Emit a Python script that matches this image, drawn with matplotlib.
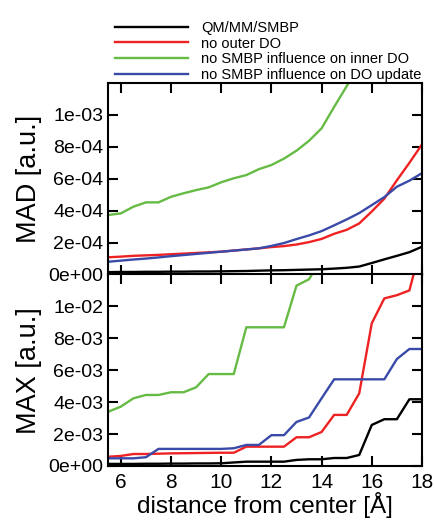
import numpy as np
import matplotlib
matplotlib.use("Agg")
import matplotlib.pyplot as plt

plt.rcParams['font.family'] = ['Liberation Sans', 'DejaVu Sans']

# distances [Angstrom]
dist = np.arange(5.5, 18.01, 0.5)

labels = ["QM/MM/SMBP", "no outer DO",
          "no SMBP influence on inner DO",
          "no SMBP influence on DO update"]
colors = ["black", "#ee2222", "#66bb44", "#3a4aa8"]

# mean absolute deviation (units of 1e-4)
mad_full = [0.15, 0.16, 0.16, 0.17, 0.17, 0.18, 0.18, 0.19, 0.19, 0.20,
            0.21, 0.22, 0.24, 0.26, 0.27, 0.29, 0.31, 0.33, 0.37, 0.42,
            0.50, 0.72, 0.95, 1.17, 1.40, 1.74]
mad_no_outer = [1.08, 1.12, 1.17, 1.20, 1.23, 1.27, 1.31, 1.35, 1.39, 1.43,
                1.50, 1.57, 1.64, 1.72, 1.78, 1.88, 2.03, 2.23, 2.55, 2.80,
                3.20, 3.95, 4.75, 5.90, 7.00, 8.15]
mad_no_inner = [3.73, 3.83, 4.25, 4.52, 4.52, 4.87, 5.09, 5.29, 5.46, 5.78,
                6.03, 6.23, 6.60, 6.86, 7.26, 7.76, 8.38, 9.16, 10.5, 11.8,
                13.2]
mad_no_update = [0.80, 0.87, 0.94, 1.00, 1.07, 1.15, 1.22, 1.29, 1.36, 1.43,
                 1.50, 1.57, 1.64, 1.79, 1.97, 2.22, 2.45, 2.72, 3.08, 3.45,
                 3.85, 4.35, 4.85, 5.50, 5.88, 6.35]

# maximum deviation (units of 1e-3)
max_full = [0.13, 0.13, 0.13, 0.14, 0.14, 0.15, 0.15, 0.16, 0.16, 0.17,
            0.22, 0.27, 0.27, 0.27, 0.27, 0.38, 0.42, 0.42, 0.50, 0.50,
            0.69, 2.57, 2.93, 2.93, 4.18, 4.18]
max_no_outer = [0.58, 0.63, 0.75, 0.75, 0.77, 0.79, 0.80, 0.81, 0.82, 0.83,
                0.83, 1.21, 1.21, 1.21, 1.21, 1.80, 1.80, 2.13, 3.20, 3.20,
                4.55, 8.94, 10.5, 10.7, 11.0, 14.0]
max_no_inner = [3.40, 3.72, 4.24, 4.45, 4.45, 4.62, 4.62, 4.93, 5.76, 5.76,
                5.76, 8.69, 8.69, 8.69, 8.69, 11.3, 11.7, 13.0]
max_no_update = [0.48, 0.48, 0.48, 0.55, 1.07, 1.07, 1.07, 1.07, 1.07, 1.07,
                 1.11, 1.32, 1.32, 1.93, 1.93, 2.76, 3.04, 4.24, 5.43, 5.43,
                 5.43, 5.43, 5.43, 6.70, 7.33, 7.33]

mad = [mad_full, mad_no_outer, mad_no_inner, mad_no_update]
mx = [max_full, max_no_outer, max_no_inner, max_no_update]

fig = plt.figure(figsize=(4.35, 5.21), dpi=100)
ax1 = fig.add_axes([0.249, 0.4731, 0.721, 0.3676])
ax2 = fig.add_axes([0.249, 0.1056, 0.721, 0.3676])

for i in range(4):
    y = np.array(mad[i]) * 1e-4
    ax1.plot(dist[:len(y)], y, color=colors[i], lw=1.7, label=labels[i])
    y = np.array(mx[i]) * 1e-3
    ax2.plot(dist[:len(y)], y, color=colors[i], lw=1.7)

ax1.set_ylim(0, 1.2e-3)
ax1.set_yticks(np.arange(0, 1.01e-3, 2e-4))
ax1.set_yticklabels(["0e+00", "2e-04", "4e-04", "6e-04", "8e-04", "1e-03"])
ax1.set_ylabel("MAD [a.u.]", fontsize=19.5, labelpad=5)

ax2.set_ylim(0, 1.2e-2)
ax2.set_yticks(np.arange(0, 1.01e-2, 2e-3))
ax2.set_yticklabels(["0e+00", "2e-03", "4e-03", "6e-03", "8e-03", "1e-02"])
ax2.set_ylabel("MAX [a.u.]", fontsize=19.5, labelpad=5)
ax2.set_xlabel("distance from center [Å]", fontsize=17.5, labelpad=0)

for ax in (ax1, ax2):
    ax.set_xlim(5.5, 18)
    ax.set_xticks([6, 8, 10, 12, 14, 16, 18])
    ax.tick_params(direction="in", length=7, width=1.5, top=True, right=True,
                   labelsize=14)
    ax.tick_params(axis="x", labelsize=15, pad=5)
    for s in ax.spines.values():
        s.set_linewidth(1.5)
ax1.tick_params(axis="x", labelbottom=False)

fig.legend(loc="upper left", bbox_to_anchor=(0.264, 0.96), frameon=False,
           fontsize=10.5, handlelength=5.0, handletextpad=0.9,
           labelspacing=0.12, borderpad=0, borderaxespad=0)

fig.savefig("out.png", dpi=100)
